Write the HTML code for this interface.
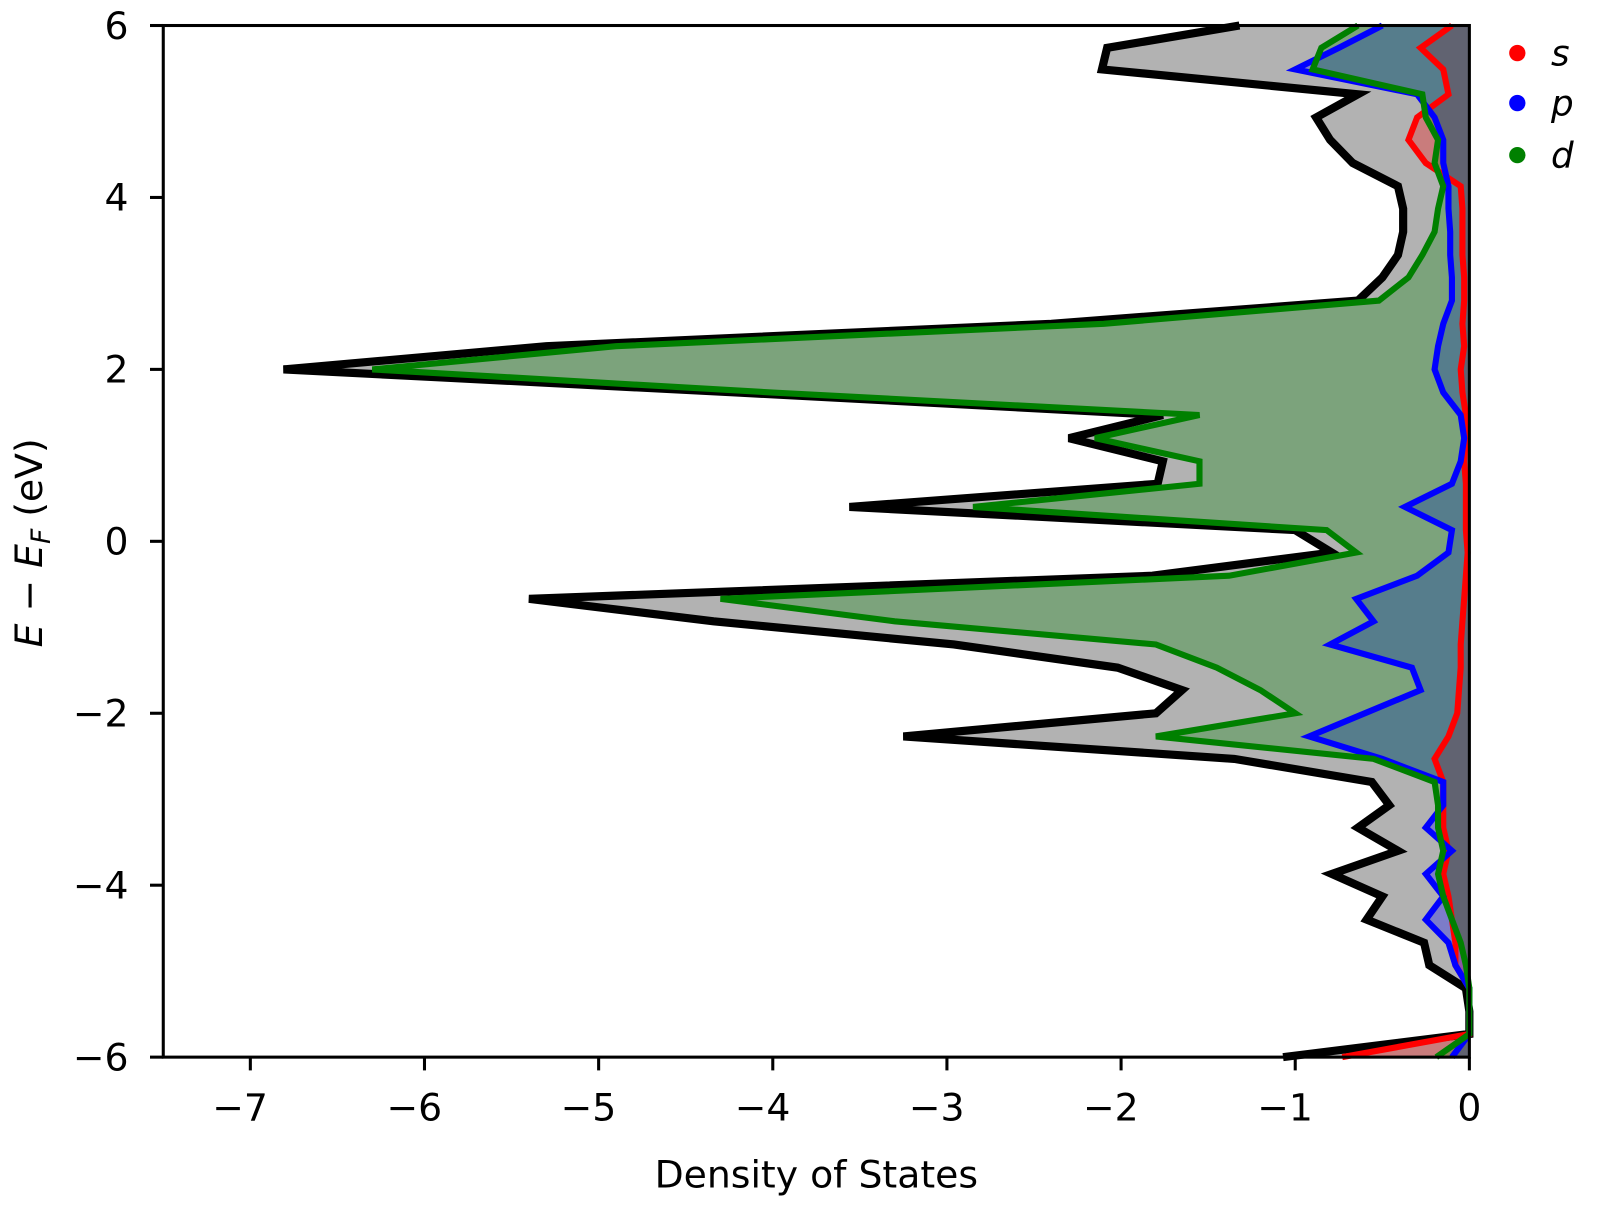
<!DOCTYPE html>
<html><head><meta charset="utf-8"><style>
body{margin:0;background:#fff}
svg text{font-family:"DejaVu Sans","Liberation Sans",sans-serif;fill:#000}
</style></head><body>
<svg id="chart" width="1600" height="1200" viewBox="0 0 1600 1200" xmlns="http://www.w3.org/2000/svg">
<g transform="scale(1.0204)">
<g id="fills"></g>
<g id="lines"></g>
<g id="axes"></g>
<text x="800" y="1164" font-size="37" text-anchor="middle">Density of States</text>
<text transform="translate(41,532) rotate(-90)" font-size="37" text-anchor="middle"><tspan font-style="italic">E</tspan> − <tspan font-style="italic">E</tspan><tspan font-style="italic" font-size="26" dy="8">F</tspan><tspan dy="-8"> (eV)</tspan></text>
<g>
<g><circle cx="1487" cy="52" r="8" fill="#ff0000"/><text x="1520" y="64" font-size="35" font-style="italic">s</text></g>
<g><circle cx="1487" cy="101" r="8" fill="#0000ff"/><text x="1520" y="113" font-size="35" font-style="italic">p</text></g>
<g><circle cx="1487" cy="152" r="8" fill="#008000"/><text x="1520" y="164" font-size="35" font-style="italic">d</text></g>
</g>
</g>
</svg>
<script>
const energies=[6,5.74,5.49,5.2,4.93,4.67,4.4,4.13,3.87,3.6,3.33,3.07,2.8,2.53,2.27,2.0,1.73,1.47,1.2,0.93,0.67,0.4,0.13,-0.13,-0.4,-0.67,-0.93,-1.2,-1.47,-1.73,-2.0,-2.27,-2.53,-2.8,-3.07,-3.33,-3.6,-3.87,-4.13,-4.4,-4.67,-4.93,-5.2,-5.47,-5.73,-6];
const totalDos=[-1.32,-2.08,-2.11,-0.64,-0.88,-0.8,-0.67,-0.41,-0.38,-0.38,-0.41,-0.5,-0.64,-2.4,-5.3,-6.81,-4.2,-1.76,-2.3,-1.76,-1.79,-3.56,-1.0,-0.79,-1.82,-5.4,-4.34,-2.96,-2.02,-1.65,-1.8,-3.25,-1.35,-0.56,-0.46,-0.64,-0.41,-0.79,-0.5,-0.59,-0.26,-0.23,-0.02,0,0,-1.07];
const dDos=[-0.64,-0.85,-0.9,-0.27,-0.25,-0.18,-0.2,-0.15,-0.18,-0.2,-0.27,-0.35,-0.52,-2.1,-4.9,-6.3,-4.0,-1.55,-2.15,-1.55,-1.55,-2.85,-0.82,-0.65,-1.38,-4.3,-3.3,-1.8,-1.45,-1.2,-1.0,-1.8,-0.55,-0.2,-0.18,-0.18,-0.15,-0.18,-0.15,-0.1,-0.05,-0.02,0,0,0,-0.19];
const pDos=[-0.5,-0.75,-1.0,-0.3,-0.2,-0.15,-0.15,-0.12,-0.12,-0.11,-0.11,-0.1,-0.1,-0.15,-0.18,-0.2,-0.15,-0.05,-0.03,-0.05,-0.1,-0.37,-0.1,-0.12,-0.3,-0.65,-0.55,-0.8,-0.33,-0.28,-0.6,-0.92,-0.5,-0.15,-0.15,-0.25,-0.1,-0.25,-0.15,-0.25,-0.12,-0.08,0,0,0,-0.1];
const sDos=[-0.1,-0.28,-0.15,-0.12,-0.3,-0.35,-0.25,-0.05,-0.04,-0.04,-0.04,-0.03,-0.03,-0.04,-0.03,-0.05,-0.04,-0.02,-0.02,-0.03,-0.02,-0.02,-0.02,-0.01,-0.02,-0.03,-0.04,-0.05,-0.05,-0.06,-0.07,-0.12,-0.2,-0.15,-0.15,-0.15,-0.12,-0.15,-0.12,-0.1,-0.08,-0.08,0,0,0,-0.73];
const xTicks=[-7,-6,-5,-4,-3,-2,-1,0];
const yTicks=[-6,-4,-2,0,2,4,6];
const L=160,R=1440,T=25,B=1036;
const xs=v=>R+(v-0)*(R-L)/7.5;
const ys=e=>T+(6-e)*(B-T)/12;
const NS="http://www.w3.org/2000/svg";
const fills=document.getElementById('fills'),lines=document.getElementById('lines'),axes=document.getElementById('axes');
function pts(vals){return vals.map((v,i)=>xs(v).toFixed(1)+','+ys(energies[i]).toFixed(1)).join(' ');}
const series=[['total',totalDos,'#000000',0.3],['s',sDos,'#ff0000',0.3],['p',pDos,'#0000ff',0.3],['d',dDos,'#008000',0.3]];
series.forEach(s=>{
 const poly=document.createElementNS(NS,'polygon');
 poly.setAttribute('points',xs(0)+','+ys(energies[0])+' '+pts(s[1])+' '+xs(0)+','+ys(energies[energies.length-1]));
 poly.setAttribute('fill',s[2]);poly.setAttribute('fill-opacity',s[3]);
 
 
 fills.appendChild(poly);
});
[['total',totalDos,'#000',8],['s',sDos,'#ff0000',6],['p',pDos,'#0000ff',6],['d',dDos,'#008000',6]].forEach(s=>{
 const pl=document.createElementNS(NS,'polyline');
 pl.setAttribute('points',pts(s[1]));pl.setAttribute('fill','none');pl.setAttribute('stroke',s[2]);pl.setAttribute('stroke-width',s[3]);pl.setAttribute('stroke-linejoin','miter');
 
 
 lines.appendChild(pl);
});
const frame=document.createElementNS(NS,'rect');
frame.setAttribute('x',L);frame.setAttribute('y',T);frame.setAttribute('width',R-L);frame.setAttribute('height',B-T);
frame.setAttribute('fill','none');frame.setAttribute('stroke','#000');frame.setAttribute('stroke-width','3');


axes.appendChild(frame);
xTicks.forEach(t=>{
 const l=document.createElementNS(NS,'line');
 l.setAttribute('x1',xs(t));l.setAttribute('x2',xs(t));l.setAttribute('y1',B);l.setAttribute('y2',B+13);l.setAttribute('stroke','#000');l.setAttribute('stroke-width','3');
 
 
 axes.appendChild(l);
 const tx=document.createElementNS(NS,'text');
 tx.setAttribute('x',xs(t)-(t<0?10:0));tx.setAttribute('y',B+62);tx.setAttribute('font-size','37');tx.setAttribute('text-anchor','middle');
 tx.textContent=(t<0?'−':'')+Math.abs(t);
 
 
 axes.appendChild(tx);
});
yTicks.forEach(t=>{
 const l=document.createElementNS(NS,'line');
 l.setAttribute('x1',L-13);l.setAttribute('x2',L);l.setAttribute('y1',ys(t));l.setAttribute('y2',ys(t));l.setAttribute('stroke','#000');l.setAttribute('stroke-width','3');
 
 
 axes.appendChild(l);
 const tx=document.createElementNS(NS,'text');
 tx.setAttribute('x',L-34);tx.setAttribute('y',ys(t)+13);tx.setAttribute('font-size','37');tx.setAttribute('text-anchor','end');
 tx.textContent=(t<0?'−':'')+Math.abs(t);
 
 
 axes.appendChild(tx);
});
</script>
</body></html>
